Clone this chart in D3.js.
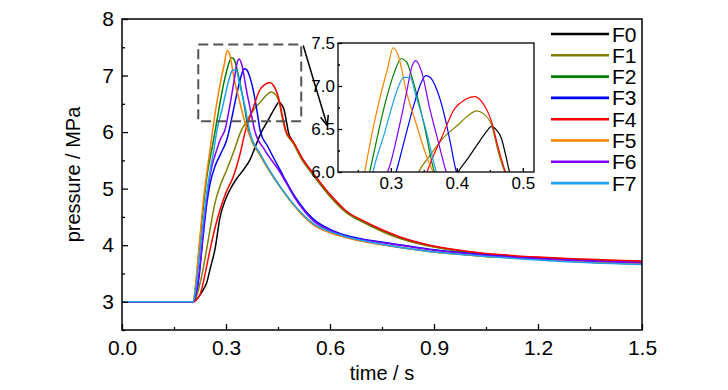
<!DOCTYPE html>
<html><head><meta charset="utf-8">
<script src="https://cdn.jsdelivr.net/npm/d3@7"></script>
<style>
html,body{margin:0;padding:0;background:#fff;}
text{font-family:"Liberation Sans",Arial,sans-serif;fill:#000;}
</style></head>
<body><svg id="chart" width="728" height="390"></svg>
<script>
const seriesNames = ["F0","F1","F2","F3","F4","F5","F6","F7"];
const seriesColors = ["#000000","#808000","#008000","#0000ff","#ff0000","#ff8000","#8000ff","#1ea0f0"];
const xTickValues = [0,0.3,0.6,0.9,1.2,1.5];
const xMinorTicks = [0.15,0.45,0.75,1.05,1.35];
const yTickValues = [3,4,5,6,7,8];
const yMinorTicks = [2.5,3.5,4.5,5.5,6.5,7.5];
const insetXTicks = [0.3,0.4,0.5];
const insetXMinor = [0.25,0.35,0.45];
const insetYTicks = [6.0,6.5,7.0,7.5];
const insetYMinor = [6.25,6.75,7.25];
const zoomBox = [0.22,0.517,6.19,7.55];

const f0 = [[0,3.0],[0.2,3.0],[0.206,3.0],[0.215,3.04],[0.225,3.12],[0.235,3.22],[0.244,3.33],[0.255,3.6],[0.268,3.92],[0.283,4.5],[0.298,4.8],[0.3115,4.98],[0.33,5.17],[0.35,5.33],[0.369,5.51],[0.385,5.75],[0.402,6.0],[0.418,6.17],[0.432,6.33],[0.445,6.47],[0.4526,6.53],[0.46,6.49],[0.4677,6.39],[0.474,6.2],[0.48,6.0],[0.494,5.82],[0.52,5.52],[0.552,5.24],[0.6,4.87],[0.648,4.58],[0.7,4.4],[0.744,4.27],[0.8,4.13],[0.888,3.99],[1.0,3.88],[1.1,3.82],[1.2,3.78],[1.3,3.75],[1.4,3.73],[1.5,3.71]];
const f1 = [[0,3.0],[0.2,3.0],[0.206,3.0],[0.215,3.1],[0.228,3.4],[0.244,3.92],[0.256,4.35],[0.268,4.74],[0.285,5.08],[0.302,5.33],[0.325,5.7],[0.342,6.0],[0.36,6.2],[0.379,6.39],[0.402,6.55],[0.418,6.66],[0.43,6.71],[0.44,6.68],[0.4526,6.55],[0.4626,6.24],[0.4727,6.0],[0.494,5.8],[0.52,5.5],[0.552,5.24],[0.6,4.86],[0.648,4.57],[0.7,4.39],[0.744,4.26],[0.8,4.12],[0.888,3.98],[1.0,3.87],[1.1,3.81],[1.2,3.77],[1.3,3.74],[1.4,3.72],[1.5,3.70]];
const f2 = [[0,3.0],[0.2,3.0],[0.206,3.0],[0.211,3.2],[0.222,3.9],[0.235,4.7],[0.247,5.3],[0.257,5.63],[0.268,6.0],[0.2935,6.86],[0.305,7.15],[0.316,7.32],[0.3238,7.28],[0.334,7.05],[0.349,6.6],[0.366,6.0],[0.4,5.58],[0.456,5.03],[0.513,4.59],[0.552,4.37],[0.6,4.23],[0.648,4.14],[0.744,4.02],[0.888,3.89],[1.033,3.81],[1.2,3.75],[1.35,3.7],[1.5,3.67]];
const f3 = [[0,3.0],[0.2,3.0],[0.206,3.0],[0.212,3.1],[0.22,3.33],[0.235,4.21],[0.245,4.75],[0.254,5.09],[0.268,5.39],[0.285,5.62],[0.302,5.86],[0.308,6.0],[0.32,6.35],[0.335,6.78],[0.345,7.02],[0.353,7.12],[0.36,7.1],[0.37,6.95],[0.38,6.7],[0.39,6.35],[0.3995,6.0],[0.42,5.75],[0.456,5.33],[0.5,4.85],[0.552,4.46],[0.6,4.28],[0.648,4.17],[0.7,4.1],[0.744,4.06],[0.888,3.93],[1.033,3.84],[1.2,3.77],[1.35,3.72],[1.5,3.69]];
const f4 = [[0,3.0],[0.2,3.0],[0.206,3.0],[0.215,3.04],[0.225,3.12],[0.24,3.5],[0.254,3.92],[0.268,4.3],[0.283,4.63],[0.3,4.93],[0.321,5.21],[0.34,5.6],[0.355,6.0],[0.377,6.4],[0.397,6.74],[0.412,6.84],[0.427,6.876],[0.4374,6.82],[0.452,6.6],[0.464,6.25],[0.474,6.0],[0.494,5.83],[0.52,5.54],[0.552,5.27],[0.6,4.9],[0.648,4.6],[0.7,4.42],[0.744,4.29],[0.8,4.15],[0.888,4.0],[1.0,3.89],[1.1,3.83],[1.2,3.79],[1.3,3.76],[1.4,3.74],[1.5,3.72]];
const f5 = [[0,3.0],[0.2,3.0],[0.206,3.0],[0.212,3.3],[0.222,3.95],[0.235,4.8],[0.245,5.3],[0.254,5.69],[0.2606,6.0],[0.2834,6.86],[0.295,7.2],[0.3035,7.445],[0.311,7.36],[0.3238,6.93],[0.339,6.55],[0.3515,6.24],[0.364,6.0],[0.4,5.57],[0.456,5.03],[0.513,4.58],[0.552,4.36],[0.6,4.22],[0.648,4.13],[0.744,4.01],[0.888,3.89],[1.033,3.81],[1.2,3.75],[1.35,3.7],[1.5,3.67]];
const f6 = [[0,3.0],[0.2,3.0],[0.206,3.0],[0.213,3.15],[0.222,3.5],[0.235,4.3],[0.248,5.0],[0.259,5.39],[0.27,5.62],[0.283,5.86],[0.2975,6.05],[0.312,6.5],[0.325,6.97],[0.331,7.2],[0.338,7.294],[0.3465,7.17],[0.359,6.74],[0.372,6.35],[0.384,6.0],[0.41,5.7],[0.456,5.29],[0.5,4.82],[0.552,4.43],[0.6,4.26],[0.648,4.15],[0.7,4.09],[0.744,4.05],[0.888,3.92],[1.033,3.83],[1.2,3.76],[1.35,3.72],[1.5,3.69]];
const f7 = [[0,3.0],[0.2,3.0],[0.206,3.0],[0.212,3.2],[0.225,3.9],[0.24,4.7],[0.255,5.35],[0.264,5.65],[0.273,6.0],[0.29,6.44],[0.3086,6.93],[0.316,7.07],[0.32,7.1],[0.329,7.1],[0.339,6.86],[0.354,6.47],[0.369,6.0],[0.4,5.6],[0.456,5.04],[0.513,4.6],[0.552,4.38],[0.6,4.24],[0.648,4.15],[0.744,4.02],[0.888,3.89],[1.033,3.81],[1.2,3.74],[1.35,3.69],[1.5,3.66]];
const seriesData = [f0,f1,f2,f3,f4,f5,f6,f7];

const svg = d3.select("#chart");
const x = d3.scaleLinear().domain([0,1.5]).range([122,642]);
const y = d3.scaleLinear().domain([2.5,8]).range([330,19]);
const xi = d3.scaleLinear().domain([0.22,0.517]).range([338,534]);
const yi = d3.scaleLinear().domain([6,7.5]).range([172,43]);

const defs = svg.append("defs");
defs.append("clipPath").attr("id","clipMain").append("rect")
  .attr("x",x(0)).attr("y",y(8)).attr("width",x(1.5)-x(0)).attr("height",y(2.5)-y(8));
defs.append("clipPath").attr("id","clipInset").append("rect")
  .attr("x",xi(0.22)).attr("y",yi(7.5)).attr("width",xi(0.517)-xi(0.22)).attr("height",yi(6)-yi(7.5));
const marker = defs.append("marker").attr("id","arrow").attr("viewBox","0 0 10 10")
  .attr("refX",9).attr("refY",5).attr("markerWidth",10).attr("markerHeight",10)
  .attr("orient","auto").attr("markerUnits","userSpaceOnUse");
marker.append("path").attr("d","M0,1 L10,5 L0,9").attr("fill","none").attr("stroke","#000").attr("stroke-width",1.6);

// main lines
const line = d3.line().x(d=>x(d[0])).y(d=>y(d[1])).curve(d3.curveMonotoneX);
const gMain = svg.append("g").attr("clip-path","url(#clipMain)");
seriesData.forEach((s,i)=>{
  gMain.append("path").attr("d",line(s)).attr("fill","none")
    .attr("stroke",seriesColors[i]).attr("stroke-width",1.5);
});

// main axes
function styleAxis(g){ g.select(".domain").remove(); g.selectAll("line").attr("stroke","#000").attr("stroke-width",1.3); }
svg.append("g").attr("transform",`translate(0,${y(2.5)})`)
  .call(d3.axisBottom(x).tickValues(xTickValues).tickSize(-6).tickPadding(10).tickFormat(d3.format(".1f")))
  .call(styleAxis).call(g=>g.selectAll("text").attr("font-size",21));
svg.append("g").attr("transform",`translate(0,${y(2.5)})`)
  .call(d3.axisBottom(x).tickValues(xMinorTicks).tickSize(-3).tickFormat(""))
  .call(styleAxis);
svg.append("g").attr("transform",`translate(${x(0)},0)`)
  .call(d3.axisLeft(y).tickValues(yTickValues).tickSize(-6).tickPadding(8).tickFormat(d3.format("d")))
  .call(styleAxis).call(g=>g.selectAll("text").attr("font-size",21));
svg.append("g").attr("transform",`translate(${x(0)},0)`)
  .call(d3.axisLeft(y).tickValues(yMinorTicks).tickSize(-3).tickFormat(""))
  .call(styleAxis);
svg.append("rect").attr("x",x(0)).attr("y",y(8)).attr("width",x(1.5)-x(0)).attr("height",y(2.5)-y(8))
  .attr("fill","none").attr("stroke","#000").attr("stroke-width",1.5);

svg.append("text").attr("x",(x(0)+x(1.5))/2).attr("y",380).attr("text-anchor","middle")
  .attr("font-size",20).text("time / s");
svg.append("text").attr("transform",`translate(80,${(y(2.5)+y(8))/2}) rotate(-90)`)
  .attr("text-anchor","middle").attr("font-size",20).text("pressure / MPa");

// zoom box
svg.append("rect").attr("x",x(zoomBox[0])).attr("y",y(zoomBox[3]))
  .attr("width",x(zoomBox[1])-x(zoomBox[0])).attr("height",y(zoomBox[2])-y(zoomBox[3]))
  .attr("fill","none").attr("stroke","#555").attr("stroke-width",2).attr("stroke-dasharray","10,5");

// inset
svg.append("rect").attr("x",xi(0.22)).attr("y",yi(7.5)).attr("width",xi(0.517)-xi(0.22)).attr("height",yi(6)-yi(7.5))
  .attr("fill","#fff");
const lineI = d3.line().x(d=>xi(d[0])).y(d=>yi(d[1])).curve(d3.curveMonotoneX);
const gIn = svg.append("g").attr("clip-path","url(#clipInset)");
seriesData.forEach((s,i)=>{
  gIn.append("path").attr("d",lineI(s)).attr("fill","none")
    .attr("stroke",seriesColors[i]).attr("stroke-width",1.2);
});
svg.append("g").attr("transform",`translate(0,${yi(6)})`)
  .call(d3.axisBottom(xi).tickValues(insetXTicks).tickSize(-4).tickPadding(5).tickFormat(d3.format(".1f")))
  .call(styleAxis).call(g=>g.selectAll("text").attr("font-size",17));
svg.append("g").attr("transform",`translate(0,${yi(6)})`)
  .call(d3.axisBottom(xi).tickValues(insetXMinor).tickSize(-2).tickFormat(""))
  .call(styleAxis);
svg.append("g").attr("transform",`translate(${xi(0.22)},0)`)
  .call(d3.axisLeft(yi).tickValues(insetYTicks).tickSize(-4).tickPadding(3).tickFormat(d3.format(".1f")))
  .call(styleAxis).call(g=>g.selectAll("text").attr("font-size",17));
svg.append("g").attr("transform",`translate(${xi(0.22)},0)`)
  .call(d3.axisLeft(yi).tickValues(insetYMinor).tickSize(-2).tickFormat(""))
  .call(styleAxis);
svg.append("rect").attr("x",xi(0.22)).attr("y",yi(7.5)).attr("width",xi(0.517)-xi(0.22)).attr("height",yi(6)-yi(7.5))
  .attr("fill","none").attr("stroke","#000").attr("stroke-width",1.3);

// arrow from zoom box to inset
svg.append("line").attr("x1",x(zoomBox[1])+2).attr("y1",y(zoomBox[3])+1)
  .attr("x2",xi(0.22)-11).attr("y2",yi(6.55)).attr("stroke","#000").attr("stroke-width",1.5)
  .attr("marker-end","url(#arrow)");

// legend
const leg = svg.append("g");
seriesNames.forEach((n,i)=>{
  const ly = 34 + i*21.3;
  leg.append("line").attr("x1",551).attr("x2",609).attr("y1",ly).attr("y2",ly)
    .attr("stroke",seriesColors[i]).attr("stroke-width",2.6);
  leg.append("text").attr("x",612).attr("y",ly+7.5).attr("font-size",21).text(n);
});
</script></body></html>
